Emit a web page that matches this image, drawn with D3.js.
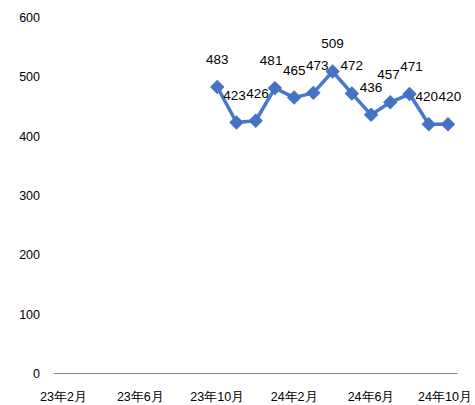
<!DOCTYPE html>
<html><head><meta charset="utf-8">
<script src="https://cdn.jsdelivr.net/npm/d3@7"></script>
<style>body{margin:0;background:#fff}svg{display:block}text{font-family:"Liberation Sans",Arial,sans-serif}</style>
</head><body>
<svg id="c" width="475" height="405"></svg>
<script>
const months = ["23年2月","23年3月","23年4月","23年5月","23年6月","23年7月","23年8月","23年9月","23年10月","23年11月","23年12月","24年1月","24年2月","24年3月","24年4月","24年5月","24年6月","24年7月","24年8月","24年9月","24年10月"];
const values = [null,null,null,null,null,null,null,null,483,423,426,481,465,473,509,472,436,457,471,420,420];
const xTickLabels = ["23年2月","23年6月","23年10月","24年2月","24年6月","24年10月"];
const yTicks = [0,100,200,300,400,500,600];

const svg = d3.select("#c");
const x = d3.scaleBand().domain(months).range([53.8, 457.6]).padding(0);
const y = d3.scaleLinear().domain([0, 600]).range([373.5, 17.5]);
const cx = d => x(d) + x.bandwidth() / 2;

svg.append("g").selectAll("text").data(yTicks).join("text")
  .attr("x", 40).attr("y", d => y(d)).attr("dy", "0.36em")
  .attr("text-anchor", "end").attr("font-size", 12.5).attr("fill", "#000")
  .text(d => d);

svg.append("line").attr("x1", x.range()[0]).attr("x2", x.range()[1])
  .attr("y1", y(0)).attr("y2", y(0)).attr("stroke", "#888").attr("stroke-width", 1);

svg.append("g").selectAll("text").data(xTickLabels).join("text")
  .attr("x", d => Math.min(cx(d), 445)).attr("y", 401)
  .attr("text-anchor", "middle").attr("font-size", 12.5).attr("fill", "#000")
  .text(d => d);

const pts = months.map((m, i) => ({m, v: values[i]})).filter(d => d.v != null);

svg.append("path").datum(pts)
  .attr("fill", "none").attr("stroke", "#4a78cc").attr("stroke-width", 3.5)
  .attr("stroke-linejoin", "round")
  .attr("d", d3.line().x(d => cx(d.m)).y(d => y(d.v)));

svg.append("g").selectAll("path").data(pts).join("path")
  .attr("transform", d => `translate(${cx(d.m)},${y(d.v)}) rotate(45)`)
  .attr("d", d3.symbol().type(d3.symbolSquare).size(85))
  .attr("fill", "#4472c4").attr("stroke", "#4472c4").attr("stroke-width", 1);

// value labels with simple collision resolution
const lg = svg.append("g");
const labs = pts.map(d => {
  const t = lg.append("text")
    .attr("x", cx(d.m)).attr("y", y(d.v) - 23)
    .attr("text-anchor", "middle").attr("font-size", 13.5).attr("fill", "#000")
    .text(d.v);
  const b = t.node().getBBox();
  return {t, x: cx(d.m), y: y(d.v) - 23, w: b.width, h: b.height - 4};
});
for (let it = 0; it < 20; it++) {
  for (let i = 1; i < labs.length; i++) {
    const a = labs[i - 1], b = labs[i];
    const dyv = Math.abs(a.y - b.y);
    if (dyv >= (a.h + b.h) / 2) continue;
    const need = (a.w + b.w) / 2 + 0.5;
    const dx = b.x - a.x;
    if (dx < need) {
      const s = (need - dx) / 2;
      a.x -= s; b.x += s;
    }
  }
  const last = labs[labs.length - 1];
  const maxX = 472 - last.w / 2;
  if (last.x > maxX) last.x = maxX;
}
labs.forEach(l => l.t.attr("x", l.x));
</script>
</body></html>
